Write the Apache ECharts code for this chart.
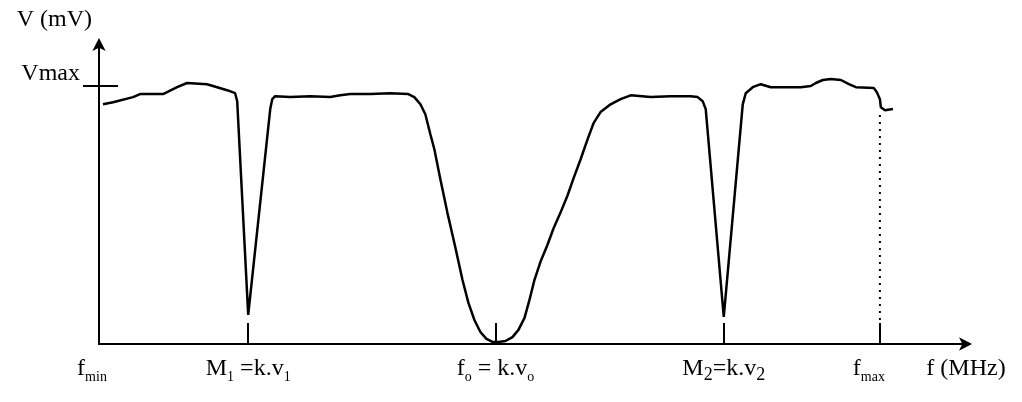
<!DOCTYPE html>
<html>
<head>
<meta charset="utf-8">
<script src="https://cdn.jsdelivr.net/npm/echarts@6/dist/echarts.min.js"></script>
<style>
  html, body { margin: 0; background: #fff; }
  #chart { width: 1022px; height: 402px; }
</style>
</head>
<body>
<div id="chart"></div>
<script>
// sweep frequency (arbitrary units, 0..100 along the f axis)
const freq = [
  0.46, 1.62, 3.93, 4.73, 7.39, 9.01, 10.16, 12.47, 13.63, 14.78, 15.70, 15.94,
  17.21,
  19.75, 19.98, 20.32, 22.06, 24.36, 26.67, 27.83, 28.98, 31.29, 33.60, 35.68, 36.37,
  37.07, 37.64, 38.22, 38.68, 39.38, 40.18, 41.11, 41.92, 42.61, 43.30, 43.99, 44.69,
  45.38, 46.07, 46.88, 47.69, 48.38, 49.08, 49.65, 50.23, 50.92, 51.73, 52.42, 53.23,
  54.04, 54.73, 55.54, 56.35, 57.04, 57.85, 59.01, 60.16, 61.32, 63.63, 65.93, 68.24,
  69.05, 69.63, 69.98,
  72.06,
  74.25, 74.60, 75.40, 76.33, 77.48, 80.95, 82.10, 82.68, 83.49, 84.41, 85.57, 86.49,
  87.30, 89.38, 89.72, 90.07, 90.18, 90.65, 91.57
];
// detector voltage (arbitrary units, 0..100 along the V axis)
const volt = [
  79.9, 80.6, 82.3, 83.3, 83.3, 85.6, 87.0, 86.6, 85.6, 84.6, 83.6, 80.9,
  9.7,
  78.3, 81.6, 82.6, 82.3, 82.6, 82.3, 82.9, 83.3, 83.3, 83.6, 83.3, 82.3,
  79.9, 76.6, 69.9, 64.9, 54.8, 43.8, 32.1, 21.4, 13.7, 8.0, 4.0, 1.7,
  0.7, 0.7, 1.0, 2.3, 4.7, 8.7, 14.7, 21.4, 27.4, 33.1, 38.5, 43.8,
  49.5, 55.2, 61.5, 68.2, 73.6, 77.3, 79.9, 81.6, 82.9, 82.3, 82.6, 82.6,
  82.3, 80.9, 78.3,
  9.0,
  79.9, 83.6, 85.6, 86.6, 85.6, 85.6, 86.0, 87.0, 88.0, 88.3, 88.0, 86.6,
  85.6, 85.3, 83.9, 81.6, 78.9, 77.9, 78.3
];

const vMax = 86;
const fMax = 90.07;
const guideVolt = [8, 77.5];

// positions along the f axis that get a label, and the ones that get a tick
const labelFreqs = [0, 17.21, 45.73, 72.06, 90.07, 100];
const labelTexts = [
  '{t|f}{s|min}{gapA|}',
  '{t|M}{s|1}{t| =k.v}{s|1}',
  '{t|f}{s|o}{t| = k.v}{s|o}',
  '{t|M}{s2|2}{t|=k.v}{s2|2}',
  '{t|f}{s|max}{gapB|}',
  '{t|f (MHz)}'
];
const tickFreqs = [17.21, 45.73, 72.06, 90.07];

const serif = 'Liberation Serif';
const black = '#000';

const chart = echarts.init(document.getElementById('chart'));

chart.setOption({
  backgroundColor: '#fff',
  animation: false,
  grid: { left: 99, right: 56, top: 44, bottom: 58, outerBoundsMode: 'none' },
  xAxis: {
    type: 'value',
    min: 0,
    max: 100,
    axisLine: {
      lineStyle: { color: black, width: 2 },
      symbol: ['none', 'arrow'],
      symbolSize: [10, 13],
      symbolOffset: [0, 6]
    },
    axisTick: {
      customValues: tickFreqs,
      inside: true,
      length: 21,
      lineStyle: { color: black, width: 2 }
    },
    axisLabel: {
      customValues: labelFreqs,
      margin: 10,
      color: black,
      fontFamily: serif,
      formatter: function (value) {
        const i = labelFreqs.indexOf(value);
        return i >= 0 ? labelTexts[i] : '';
      },
      rich: {
        t: { fontFamily: serif, fontSize: 24, lineHeight: 30, color: black },
        s: { fontFamily: serif, fontSize: 14, lineHeight: 15, verticalAlign: 'bottom', color: black },
        s2: { fontFamily: serif, fontSize: 18, lineHeight: 19, verticalAlign: 'bottom', color: black },
        gapA: { width: 14 },
        gapB: { width: 22 }
      }
    },
    splitLine: { show: false }
  },
  yAxis: [
    {
      type: 'value',
      min: 0,
      max: 100,
      name: 'V (mV)',
      nameLocation: 'end',
      nameGap: 12,
      nameTextStyle: {
        color: black,
        fontFamily: serif,
        fontSize: 24,
        align: 'right',
        padding: [0, 7, 0, 0]
      },
      axisLine: {
        lineStyle: { color: black, width: 2 },
        symbol: ['none', 'arrow'],
        symbolSize: [10, 13],
        symbolOffset: [0, 6]
      },
      axisTick: {
        customValues: [vMax],
        length: 16,
        lineStyle: { color: black, width: 2 }
      },
      axisLabel: {
        customValues: [vMax],
        formatter: function () { return 'Vmax'; },
        margin: 19,
        verticalAlign: 'bottom',
        color: black,
        fontFamily: serif,
        fontSize: 24
      },
      splitLine: { show: false }
    },
    {
      type: 'value',
      min: 0,
      max: 100,
      position: 'left',
      axisLine: { show: false },
      axisTick: {
        show: true,
        customValues: [vMax],
        inside: true,
        length: 19,
        lineStyle: { color: black, width: 2 }
      },
      axisLabel: { show: false },
      splitLine: { show: false }
    }
  ],
  series: [
    {
      name: 'V',
      type: 'line',
      data: freq.map((f, i) => [f, volt[i]]),
      symbol: 'none',
      lineStyle: { color: black, width: 2.5 },
      z: 3
    },
    {
      name: 'fmax guide',
      type: 'line',
      data: guideVolt.map(v => [fMax, v]),
      symbol: 'none',
      lineStyle: { color: black, width: 2, type: [2, 5] }
    }
  ]
});
</script>
</body>
</html>
